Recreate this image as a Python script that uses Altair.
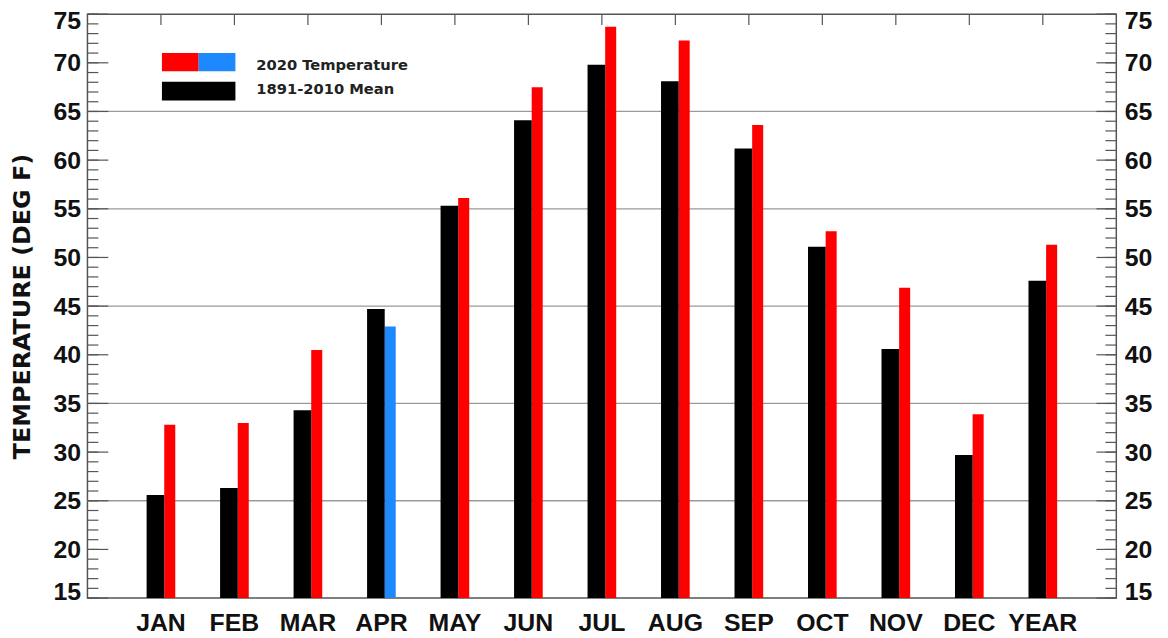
import altair as alt
import pandas as pd

# ---------------- data ----------------
months = ["JAN", "FEB", "MAR", "APR", "MAY", "JUN", "JUL", "AUG", "SEP", "OCT", "NOV", "DEC", "YEAR"]
mean_1891_2010 = [25.6, 26.3, 34.3, 44.7, 55.3, 64.1, 69.8, 68.1, 61.2, 51.1, 40.6, 29.7, 47.6]
temp_2020 = [32.8, 33.0, 40.5, 42.9, 56.1, 67.5, 73.7, 72.3, 63.6, 52.7, 46.9, 33.9, 51.3]
legend_labels = ["2020 Temperature", "1891-2010 Mean"]
y_major = [15, 20, 25, 30, 35, 40, 45, 50, 55, 60, 65, 70, 75]
y_minor = list(range(15, 76))
grid_values = [25, 35, 45, 55, 65]
positions = list(range(1, len(months) + 1))

# ---------------- layout / style ----------------
W, H = 1036, 588
RED, BLUE, BLACK = "#FF0000", "#1E88FF", "#000000"
FRAME = "#555555"
LABEL_FONT = "Liberation Sans"

df = pd.DataFrame({"pos": positions, "month": months,
                   "mean": mean_1891_2010, "t2020": temp_2020})
grid_df = pd.DataFrame({"v": grid_values})
major_df = pd.DataFrame({"v": y_major})
minor_df = pd.DataFrame({"v": y_minor})

x_scale = alt.Scale(domain=[0, len(months) + 1], nice=False, zero=False)
y_scale = alt.Scale(domain=[15, 75], nice=False, zero=False)

grid = alt.Chart(grid_df).mark_rule(color="#9a9a9a", strokeWidth=1.3).encode(
    y=alt.Y("v:Q", scale=y_scale, axis=None),
    x=alt.value(0), x2=alt.value(W),
)

left_minor = alt.Chart(minor_df).mark_rule(color=FRAME, strokeWidth=1.2).encode(
    y=alt.Y("v:Q", scale=y_scale, axis=None),
    x=alt.value(0), x2=alt.value(11),
)
right_minor = alt.Chart(minor_df).mark_rule(color=FRAME, strokeWidth=1.2).encode(
    y=alt.Y("v:Q", scale=y_scale, axis=None),
    x=alt.value(W - 11), x2=alt.value(W),
)
left_major = alt.Chart(major_df).mark_rule(color=FRAME, strokeWidth=1.2).encode(
    y=alt.Y("v:Q", scale=y_scale,
            axis=alt.Axis(orient="left", values=y_major, ticks=False, domain=False,
                          grid=False, labelFont=LABEL_FONT, labelFontSize=25,
                          labelFontWeight="bold", labelColor="#111111", labelPadding=7,
                          labelFlush=True, labelFlushOffset=6,
                          title="TEMPERATURE (DEG F)", titleFont="DejaVu Sans",
                          titleFontSize=24, titleFontWeight="bold", titleColor="#111111",
                          titlePadding=19)),
    x=alt.value(0), x2=alt.value(21),
)
right_major = alt.Chart(major_df).mark_rule(color=FRAME, strokeWidth=1.2).encode(
    y=alt.Y("v:Q", scale=y_scale,
            axis=alt.Axis(orient="right", values=y_major, ticks=False, domain=False,
                          grid=False, labelFont=LABEL_FONT, labelFontSize=25,
                          labelFontWeight="bold", labelColor="#111111", labelPadding=8,
                          labelFlush=True, labelFlushOffset=6, title=None)),
    x=alt.value(W - 20), x2=alt.value(W),
)

top_ticks = alt.Chart(df).mark_rule(color=FRAME, strokeWidth=1.2).encode(
    x=alt.X("pos:Q", scale=x_scale, axis=None),
    y=alt.value(0), y2=alt.value(11),
)
bottom_ticks = alt.Chart(df).mark_rule(color=FRAME, strokeWidth=1.2).encode(
    x=alt.X("pos:Q", scale=x_scale, axis=None),
    y=alt.value(H - 11), y2=alt.value(H),
)
month_labels = alt.Chart(df).mark_text(
    align="center", baseline="alphabetic", font=LABEL_FONT, fontSize=25,
    fontWeight="bold", color="#111111",
).encode(
    x=alt.X("pos:Q", scale=x_scale, axis=None),
    y=alt.value(H + 33),
    text="month:N",
)

bars_2020 = alt.Chart(df).transform_calculate(
    x0="datum.pos + 0.045", x1="datum.pos + 0.195", base="15"
).mark_rect().encode(
    x=alt.X("x0:Q", scale=x_scale, axis=None),
    x2="x1:Q",
    y=alt.Y("t2020:Q", scale=y_scale, axis=None),
    y2="base:Q",
    color=alt.condition(alt.datum.t2020 < alt.datum.mean, alt.value(BLUE), alt.value(RED)),
)
bars_mean = alt.Chart(df).transform_calculate(
    x0="datum.pos - 0.195", x1="datum.pos + 0.045", base="15"
).mark_rect(color=BLACK).encode(
    x=alt.X("x0:Q", scale=x_scale, axis=None),
    x2="x1:Q",
    y=alt.Y("mean:Q", scale=y_scale, axis=None),
    y2="base:Q",
)

one = pd.DataFrame({"k": [0]})
leg_red = alt.Chart(one).mark_rect(color=RED).encode(
    x=alt.value(75), x2=alt.value(112), y=alt.value(39), y2=alt.value(57.5))
leg_blue = alt.Chart(one).mark_rect(color=BLUE).encode(
    x=alt.value(112), x2=alt.value(149), y=alt.value(39), y2=alt.value(57.5))
leg_black = alt.Chart(one).mark_rect(color=BLACK).encode(
    x=alt.value(75), x2=alt.value(149), y=alt.value(68), y2=alt.value(87))
leg_t1 = alt.Chart(one).mark_text(
    text=legend_labels[0], align="left", baseline="middle", font="DejaVu Sans",
    fontSize=14.8, fontWeight="bold", color="#222222").encode(x=alt.value(170), y=alt.value(52.5))
leg_t2 = alt.Chart(one).mark_text(
    text=legend_labels[1], align="left", baseline="middle", font="DejaVu Sans",
    fontSize=14.8, fontWeight="bold", color="#222222").encode(x=alt.value(170), y=alt.value(76.5))

chart = alt.layer(
    grid, left_minor, right_minor, left_major, right_major, top_ticks, bottom_ticks,
    bars_2020, bars_mean, month_labels, leg_red, leg_blue, leg_black, leg_t1, leg_t2,
).resolve_scale(y="independent").properties(
    width=W, height=H,
    autosize=alt.AutoSizeParams(type="none"),
    padding={"left": 80, "top": 4, "right": 44, "bottom": 38},
    background="white",
).configure_view(stroke=FRAME, strokeWidth=1.5)

chart.save("out.html", embed_options={"renderer": "svg", "actions": False})
